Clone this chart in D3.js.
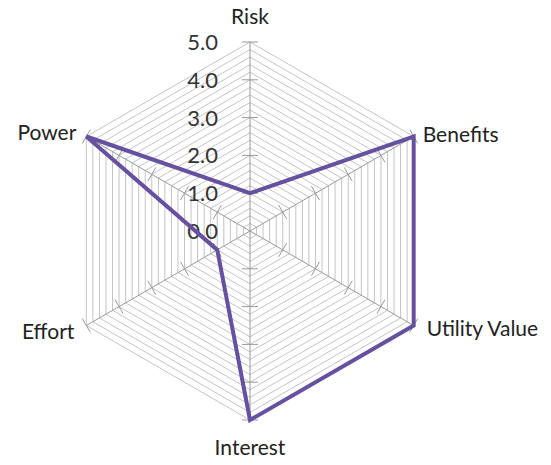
<!DOCTYPE html>
<html>
<head>
<meta charset="utf-8">
<script src="https://cdn.jsdelivr.net/npm/d3@7"></script>
<style>
  body { margin: 0; background: #fff; }
  svg { display: block; font-family: Lato, "Open Sans", sans-serif; }
</style>
</head>
<body>
<div id="radar"></div>
<script>
// axis names, clockwise from the top
const axes = ["Risk", "Benefits", "Utility Value", "Interest", "Effort", "Power"];
const values = [1.0, 5.0, 5.0, 5.0, 1.0, 5.0];
const tickValues = [0, 1, 2, 3, 4, 5];
const gridStep = 0.2;

const width = 551;
const height = 465;
const cx = 250;
const cy = 231;
const radius = 189;

const r = d3.scaleLinear().domain([0, 5]).range([0, radius]);
const angle = d3.scalePoint().domain(axes).range([0, 2 * Math.PI * 5 / 6]);

const pt = (name, v) => {
  const a = angle(name);
  return [cx + r(v) * Math.sin(a), cy - r(v) * Math.cos(a)];
};

const svg = d3.select("#radar")
  .append("svg")
  .attr("width", width)
  .attr("height", height)
  .attr("viewBox", [0, 0, width, height]);

// hexagon grid, one ring every 0.2
const levels = d3.range(gridStep, 5 + 1e-9, gridStep);
svg.append("g")
  .selectAll("polygon")
  .data(levels)
  .join("polygon")
    .attr("points", lv => axes.map(a => pt(a, lv).join(",")).join(" "))
    .attr("fill", "none")
    .attr("stroke", "#c4c4c4")
    .attr("stroke-width", 1);

// spokes
svg.append("g")
  .selectAll("line")
  .data(axes)
  .join("line")
    .attr("x1", cx).attr("y1", cy)
    .attr("x2", a => pt(a, 5)[0])
    .attr("y2", a => pt(a, 5)[1])
    .attr("stroke", "#9a9a9a")
    .attr("stroke-width", 1);

// tick marks across each spoke
const tickLen = 8;
const ticks = axes.flatMap(a => tickValues.slice(1).map(v => ({a, v})));
svg.append("g")
  .selectAll("line")
  .data(ticks)
  .join("line")
    .attr("x1", d => pt(d.a, d.v)[0] - tickLen * Math.cos(angle(d.a)))
    .attr("y1", d => pt(d.a, d.v)[1] - tickLen * Math.sin(angle(d.a)))
    .attr("x2", d => pt(d.a, d.v)[0] + tickLen * Math.cos(angle(d.a)))
    .attr("y2", d => pt(d.a, d.v)[1] + tickLen * Math.sin(angle(d.a)))
    .attr("stroke", "#9a9a9a")
    .attr("stroke-width", 1);

// value labels along the top spoke
svg.append("g")
  .selectAll("text")
  .data(tickValues)
  .join("text")
    .attr("x", cx - 32)
    .attr("y", v => cy - r(v))
    .attr("dy", "0.36em")
    .attr("text-anchor", "end")
    .attr("font-size", 22)
    .attr("fill", "#333")
    .text(v => d3.format(".1f")(v));

// data polygon
const line = d3.line().curve(d3.curveLinearClosed);
svg.append("path")
  .attr("d", line(axes.map((a, i) => pt(a, values[i]))))
  .attr("fill", "none")
  .attr("stroke", "#6650a0")
  .attr("stroke-width", 4)
  .attr("stroke-linejoin", "miter");

// axis names
const labelPos = {
  "Risk":          {dx: 0,   dy: -33, anchor: "middle"},
  "Benefits":      {dx: 9,   dy: -9,  anchor: "start"},
  "Utility Value": {dx: 13,  dy: -4,  anchor: "start"},
  "Interest":      {dx: 0,   dy: 20,  anchor: "middle"},
  "Effort":        {dx: -12, dy: -1,  anchor: "end"},
  "Power":         {dx: -10, dy: -11, anchor: "end"}
};
svg.append("g")
  .selectAll("text")
  .data(axes)
  .join("text")
    .attr("x", a => pt(a, 5)[0] + labelPos[a].dx)
    .attr("y", a => pt(a, 5)[1] + labelPos[a].dy)
    .attr("dy", "0.71em")
    .attr("text-anchor", a => labelPos[a].anchor)
    .attr("font-size", 21)
    .attr("fill", "#222")
    .text(a => a);
</script>
</body>
</html>
